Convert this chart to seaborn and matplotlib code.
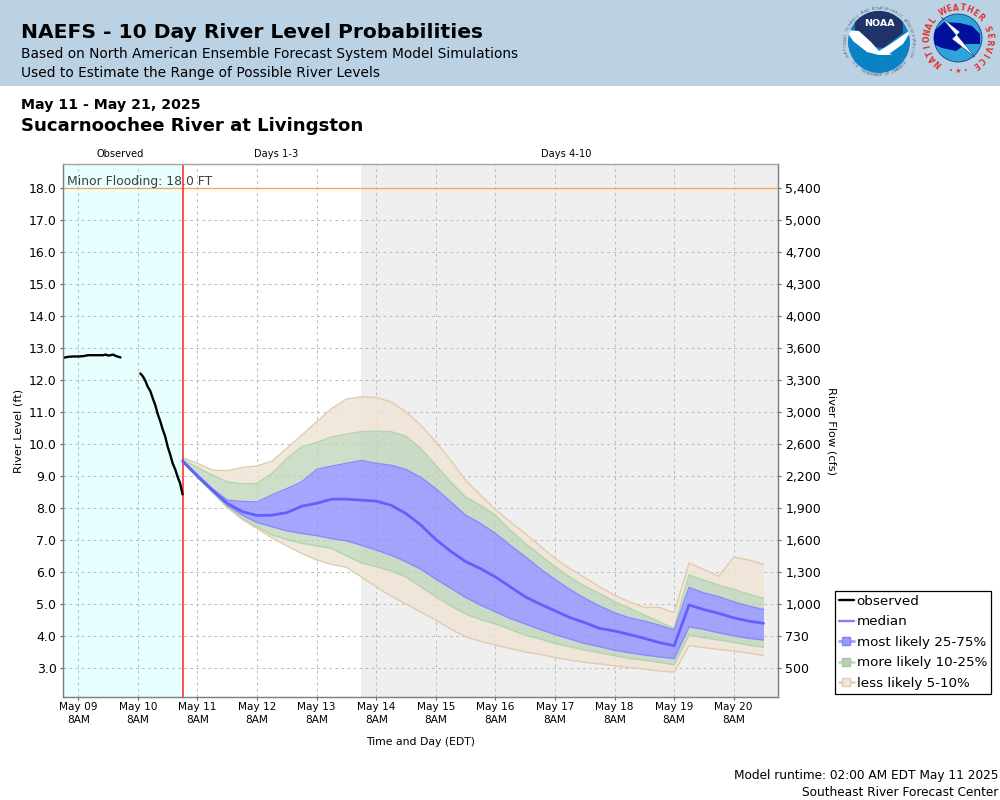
import numpy as np
import pandas as pd
import matplotlib
matplotlib.use("Agg")
import matplotlib.pyplot as plt
import seaborn as sns
from matplotlib.lines import Line2D
from matplotlib.patches import Circle, Polygon, Rectangle

# ==========================================
# DATA
# ==========================================

obs_hours_1 = [-6, -4, -2, 0, 2, 4, 6, 8, 10, 11, 12, 13, 14, 15, 17]
obs_level_1 = [12.70, 12.73, 12.74, 12.74, 12.75, 12.78, 12.78, 12.78, 12.78, 12.80, 12.77, 12.78, 12.80, 12.76, 12.71]
obs_hours_2 = [25, 26, 27, 28, 29, 30, 31, 32, 33, 34, 35, 36, 37, 38, 39, 40, 41, 42]
obs_level_2 = [12.21, 12.12, 11.98, 11.79, 11.66, 11.43, 11.22, 10.94, 10.72, 10.46, 10.24, 9.92, 9.68, 9.40, 9.22, 8.98, 8.78, 8.43]

hi_5 = [9.58, 9.40, 9.19, 9.17, 9.27, 9.32, 9.47, 9.87, 10.28, 10.70, 11.11, 11.41, 11.48, 11.46, 11.32, 11.01, 10.59, 10.07, 9.50, 8.87,
        8.41, 7.96, 7.57, 7.21, 6.82, 6.43, 6.11, 5.83, 5.54, 5.28, 5.07, 4.90, 4.90, 4.73, 6.29, 6.08, 5.87, 6.47, 6.38, 6.25]
hi_10 = [9.52, 9.27, 9.03, 8.82, 8.76, 8.77, 9.08, 9.55, 9.92, 10.05, 10.22, 10.31, 10.39, 10.40, 10.39, 10.25, 9.86, 9.34, 8.82, 8.35,
         8.09, 7.78, 7.31, 6.90, 6.53, 6.17, 5.85, 5.56, 5.33, 5.07, 4.87, 4.66, 4.45, 4.24, 5.91, 5.75, 5.59, 5.46, 5.31, 5.18]
hi_25 = [9.50, 9.05, 8.61, 8.25, 8.21, 8.19, 8.41, 8.61, 8.82, 9.21, 9.31, 9.40, 9.49, 9.40, 9.34, 9.21, 8.96, 8.61, 8.20, 7.78,
         7.52, 7.21, 6.84, 6.48, 6.11, 5.77, 5.46, 5.18, 4.94, 4.73, 4.57, 4.47, 4.34, 4.19, 5.52, 5.35, 5.23, 5.07, 4.94, 4.83]
median = [9.47, 9.00, 8.56, 8.15, 7.89, 7.77, 7.78, 7.86, 8.06, 8.15, 8.28, 8.28, 8.25, 8.22, 8.09, 7.83, 7.47, 7.02, 6.65, 6.33,
          6.11, 5.85, 5.54, 5.23, 5.00, 4.79, 4.58, 4.42, 4.24, 4.16, 4.05, 3.93, 3.80, 3.70, 4.97, 4.83, 4.71, 4.57, 4.47, 4.40]
lo_25 = [9.47, 8.98, 8.53, 8.09, 7.78, 7.55, 7.42, 7.29, 7.21, 7.14, 7.05, 6.98, 6.84, 6.69, 6.53, 6.32, 6.09, 5.78, 5.50, 5.21,
         4.97, 4.76, 4.55, 4.38, 4.21, 4.05, 3.91, 3.77, 3.67, 3.56, 3.48, 3.41, 3.35, 3.30, 4.29, 4.21, 4.10, 4.01, 3.93, 3.88]
lo_10 = [9.45, 8.96, 8.51, 8.04, 7.68, 7.42, 7.16, 7.02, 6.90, 6.82, 6.74, 6.51, 6.29, 6.17, 6.04, 5.85, 5.54, 5.23, 4.95, 4.69,
         4.52, 4.38, 4.21, 4.03, 3.91, 3.77, 3.67, 3.56, 3.48, 3.39, 3.30, 3.25, 3.18, 3.11, 4.03, 3.95, 3.88, 3.80, 3.72, 3.65]
lo_5 = [9.45, 8.96, 8.49, 8.02, 7.65, 7.36, 7.07, 6.82, 6.58, 6.38, 6.24, 6.15, 5.85, 5.54, 5.25, 5.00, 4.75, 4.50, 4.22, 3.98,
        3.84, 3.72, 3.61, 3.50, 3.43, 3.33, 3.25, 3.18, 3.13, 3.07, 3.02, 2.97, 2.91, 2.87, 3.70, 3.64, 3.58, 3.53, 3.47, 3.39]

level_ticks = [3, 4, 5, 6, 7, 8, 9, 10, 11, 12, 13, 14, 15, 16, 17, 18]
flow_labels = ["500", "730", "1,000", "1,300", "1,600", "1,900", "2,200", "2,600",
               "3,000", "3,300", "3,600", "4,000", "4,300", "4,700", "5,000", "5,400"]
flood_level = 18.0

base = pd.Timestamp("2025-05-09 08:00")
forecast_times = pd.date_range("2025-05-11 02:00", periods=len(median), freq="6h")
day_ticks = pd.date_range(base, periods=12, freq="D")
day_labels = [d.strftime("%b %d") + "\n8AM" for d in day_ticks]

obs_1 = pd.DataFrame({"time": base + pd.to_timedelta(obs_hours_1, unit="h"), "level": obs_level_1})
obs_2 = pd.DataFrame({"time": base + pd.to_timedelta(obs_hours_2, unit="h"), "level": obs_level_2})
forecast = pd.DataFrame({"time": forecast_times, "median": median})

now = pd.Timestamp("2025-05-11 02:00")
day4 = pd.Timestamp("2025-05-14 02:00")
x_left = pd.Timestamp("2025-05-09 02:00")
x_right = pd.Timestamp("2025-05-21 02:00")

# colours
BLUE_FILL, BLUE_LINE, MEDIAN = "#9090ff", "#8a8aff", "#6060ff"
GREEN_FILL, GREEN_LINE = "#bdd4b8", "#b5d3ac"
TAN_FILL, TAN_LINE = "#efe4d6", "#e2cbb0"

# ==========================================
# FIGURE
# ==========================================

sns.set_style("ticks")
plt.rcParams["font.family"] = ["DejaVu Sans"]
plt.rcParams["text.color"] = "black"
plt.rcParams["axes.labelcolor"] = "black"
plt.rcParams["xtick.labelcolor"] = "black"
plt.rcParams["ytick.labelcolor"] = "black"

fig = plt.figure(figsize=(10, 8), dpi=100)
ax = fig.add_axes([63.4 / 1000, 1 - 697.2 / 800, 715 / 1000, (697.2 - 164.2) / 800])

ax.axvspan(x_left, now, color="#e8ffff", lw=0, zorder=0)
ax.axvspan(day4, x_right, color="#efefef", lw=0, zorder=0)
ax.grid(True, color="#bcbcbc", linestyle=(0, (2.6, 3.2)), linewidth=0.75, zorder=1)
ax.set_axisbelow(True)

# bands, outside in
t = forecast_times
ax.fill_between(t, hi_10, hi_5, color=TAN_FILL, alpha=0.85, lw=0, zorder=2)
ax.fill_between(t, lo_5, lo_10, color=TAN_FILL, alpha=0.85, lw=0, zorder=2)
ax.fill_between(t, hi_25, hi_10, color=GREEN_FILL, alpha=0.75, lw=0, zorder=2)
ax.fill_between(t, lo_10, lo_25, color=GREEN_FILL, alpha=0.75, lw=0, zorder=2)
ax.fill_between(t, lo_25, hi_25, color=BLUE_FILL, alpha=0.8, lw=0, zorder=2)
for band, col in [(hi_5, TAN_LINE), (lo_5, TAN_LINE), (hi_10, GREEN_LINE), (lo_10, GREEN_LINE),
                  (hi_25, BLUE_LINE), (lo_25, BLUE_LINE)]:
    ax.plot(t, band, color=col, lw=1.0, zorder=3)

ax.axhline(flood_level, color="#ffa53c", lw=0.9, zorder=4)
ax.axvline(now, color="#ff2020", lw=1.1, zorder=4)

sns.lineplot(data=obs_1, x="time", y="level", color="black", lw=1.7, ax=ax, zorder=5, legend=False)
sns.lineplot(data=obs_2, x="time", y="level", color="black", lw=1.7, ax=ax, zorder=5, legend=False)
sns.lineplot(data=forecast, x="time", y="median", color=MEDIAN, lw=2.0, ax=ax, zorder=5, legend=False)

ax.set_xlim(x_left, x_right)
ax.set_ylim(2.09, 18.75)
ax.set_xticks(day_ticks)
ax.set_xticklabels(day_labels, fontsize=7.6, linespacing=1.35)
ax.set_yticks(level_ticks)
ax.set_yticklabels([f"{v:.1f}" for v in level_ticks], fontsize=9)
ax.tick_params(axis="both", length=2.2, width=0.8, color="#666666", pad=2.8)
ax.tick_params(axis="x", pad=1.5)
ax.set_xlabel("Time and Day (EDT)", fontsize=7.8, labelpad=8.5)
ax.set_ylabel("River Level (ft)", fontsize=8.2, labelpad=3.5)

ax2 = ax.twinx()
ax2.set_ylim(ax.get_ylim())
ax2.set_yticks(level_ticks)
ax2.set_yticklabels(flow_labels, fontsize=9)
ax2.set_ylabel("River Flow (cfs)", fontsize=8.2, rotation=270, labelpad=11)
ax2.tick_params(axis="y", length=2.2, width=0.8, color="#666666", pad=2.8)

for a in (ax, ax2):
    for side, col in [("left", "#808080"), ("bottom", "#808080"), ("top", "#a8a8a8"), ("right", "#808080")]:
        a.spines[side].set_color(col)
        a.spines[side].set_linewidth(0.9)

ax.text(0.0055, 0.968, "Minor Flooding: 18.0 FT", transform=ax.transAxes, fontsize=8.9,
        color="#404040", va="center", ha="left", zorder=6)

handles = [
    Line2D([], [], color="black", lw=1.7),
    Line2D([], [], color=MEDIAN, lw=1.7, alpha=0.8),
    Line2D([], [], color="#a0a0ff", lw=2, marker="s", ms=5.5, mfc="#9a9aff", mec="#8080ff"),
    Line2D([], [], color="#c3dabd", lw=2, marker="s", ms=5.5, mfc="#b9d3b2", mec="#a5c79c"),
    Line2D([], [], color="#e6d3bd", lw=2, marker="s", ms=5.5, mfc="#f1e8dc", mec="#e2cbb0"),
]
fig.legend(handles, ["observed", "median", "most likely 25-75%", "more likely 10-25%", "less likely 5-10%"],
           loc="upper left", bbox_to_anchor=(0.835, 1 - 591 / 800), borderaxespad=0,
           fontsize=9.7, frameon=True, fancybox=False, framealpha=1, edgecolor="black",
           handlelength=1.1, handletextpad=0.2, labelspacing=0.55, borderpad=0.3).get_frame().set_linewidth(0.9)

# ==========================================
# HEADER AND TEXT (pixel coordinates)
# ==========================================

over = fig.add_axes([0, 0, 1, 1], zorder=-1)
over.set_xlim(0, 1000)
over.set_ylim(800, 0)
over.axis("off")
over.add_patch(Rectangle((0, 0), 1000, 86, color="#bbd2e5", lw=0))

top = fig.add_axes([0, 0, 1, 1], zorder=5)
top.set_xlim(0, 1000)
top.set_ylim(800, 0)
top.axis("off")
top.patch.set_alpha(0)

top.text(21, 33, "NAEFS - 10 Day River Level Probabilities", fontsize=14.6, fontweight="bold", va="center")
top.text(21, 54, "Based on North American Ensemble Forecast System Model Simulations", fontsize=9.9, va="center")
top.text(21, 73, "Used to Estimate the Range of Possible River Levels", fontsize=9.9, va="center")
top.text(21, 105, "May 11 - May 21, 2025", fontsize=10.15, fontweight="bold", va="center")
top.text(21, 126, "Sucarnoochee River at Livingston", fontsize=13.1, fontweight="bold", va="center")
top.text(120, 154, "Observed", fontsize=7.1, ha="center", va="center")
top.text(276.5, 154, "Days 1-3", fontsize=7.1, ha="center", va="center")
top.text(566.5, 154, "Days 4-10", fontsize=7.1, ha="center", va="center")
top.text(998, 776, "Model runtime: 02:00 AM EDT May 11 2025", fontsize=8.78, ha="right", va="center")
top.text(998, 792, "Southeast River Forecast Center", fontsize=8.78, ha="right", va="center")


def ring_text(cx, cy, r, text, start, end, size, color, weight="normal", bottom=False):
    # one letter at a time along a circle, angles clockwise from north
    for ang, ch in zip(np.linspace(start, end, len(text)), text):
        rad = np.deg2rad(ang)
        rot = 180 - ang if bottom else -ang
        top.text(cx + r * np.sin(rad), cy - r * np.cos(rad), ch, fontsize=size, color=color,
                 rotation=rot, rotation_mode="anchor", ha="center", va="center", fontweight=weight)


# NOAA logo
nx, ny = 879, 42
disc = Circle((nx, ny), 31, color="#0a83c6", lw=0)
top.add_patch(disc)
navy = Polygon([(nx - 24, ny - 31), (nx + 24, ny - 31), (nx + 24, ny - 9), (nx + 4, ny + 6), (nx - 4, ny + 5), (nx - 24, ny - 9)],
               color="#1f3269", lw=0)
top.add_patch(navy)
navy.set_clip_path(disc)
gull = Polygon([(nx - 33, ny - 12), (nx - 20, ny - 11), (nx - 8, ny), (nx, ny + 9), (nx + 10, ny + 3), (nx + 33, ny - 13),
                (nx + 24, ny + 2), (nx + 10, ny + 12), (nx + 14, ny + 13), (nx, ny + 13), (nx - 12, ny + 10), (nx - 26, ny - 1)],
               color="white", lw=0)
top.add_patch(gull)
gull.set_clip_path(disc)
top.text(nx, ny - 18, "NOAA", fontsize=6.8, color="white", fontweight="bold", ha="center", va="center")
ring_text(nx, ny, 33.5, "NATIONAL OCEANIC AND ATMOSPHERIC ADMINISTRATION", -112, 112, 2.8, "#5a6478")
ring_text(nx, ny, 33.5, "U.S. DEPARTMENT OF COMMERCE", 232, 128, 2.8, "#5a6478", bottom=True)

# NWS logo
wx, wy = 958, 38
ring = Circle((wx, wy), 24, facecolor="#2fa4d8", edgecolor="#1f3a8f", lw=0.6)
top.add_patch(ring)
cloud = Polygon([(wx - 25, wy - 6), (wx - 14, wy - 16), (wx + 2, wy - 15), (wx + 14, wy - 12), (wx + 22, wy - 4), (wx + 22, wy + 6),
                 (wx + 8, wy + 6), (wx - 2, wy + 13), (wx - 16, wy + 10), (wx - 25, wy + 6)], color="#000f9c", lw=0)
top.add_patch(cloud)
cloud.set_clip_path(ring)
top.add_patch(Polygon([(wx - 17, wy - 21), (wx + 2, wy - 6), (wx - 1, wy - 3), (wx + 17, wy + 19), (wx - 6, wy + 1),
                       (wx - 2, wy - 3)], facecolor="white", edgecolor="#1f3a8f", lw=0.4))
ring_text(wx, wy + 1, 31, "NATIONAL WEATHER SERVICE", -140, 145, 5.6, "#e2332b", "bold")
top.text(wx, wy + 33, "• ★ •", fontsize=5, color="#e2332b", ha="center", va="center")

fig.savefig("out.png", dpi=100)
